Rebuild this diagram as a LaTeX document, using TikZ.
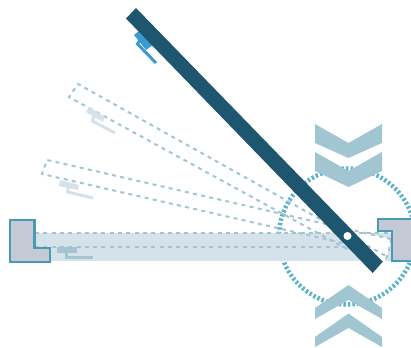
\documentclass[tikz,border=0pt]{standalone}
\definecolor{doorc}{HTML}{1D566E}
\definecolor{framef}{HTML}{C3CAD6}
\definecolor{framed}{HTML}{4A9AB2}
\definecolor{ghostf}{HTML}{D5E2E9}
\definecolor{dashc}{HTML}{A2C5D2}
\definecolor{circc}{HTML}{5DB3CA}
\definecolor{handc}{HTML}{3A9BD0}
\tikzset{
  ghostline/.style={draw=dashc,line width=2pt,dash pattern=on 4pt off 4.3pt},
  framebox/.style={draw=framed,fill=framef,line width=2.4pt,miter limit=10},
  chevron/.style={fill=dashc,draw=none},
  handleg/.style={draw=ghostf,line width=3pt},
  handlez/.style={draw=dashc,line width=3pt}
}
\begin{document}
\begin{tikzpicture}[x=1pt,y=-1pt]
\useasboundingbox (0,0) rectangle (411,347);
\clip (0,0) rectangle (411,347);
\draw[circc,line width=4.5pt,dash pattern=on 2.4pt off 2.1pt] (347,236.5) circle (68);
\fill[ghostf] (35,233) rectangle (392,261);
\fill[white] (347,229) -- (391,239) -- (389,250) -- (385,261) -- (360,261) -- cycle;
% ghost doors
\draw[ghostline] (385,255.5) -- (78,84) -- (69,97) -- (347,249);
\draw[ghostline] (391,239) -- (47,160) -- (42,174) -- (347,244);
\draw[ghostline] (35,233) -- (392,233);
\draw[ghostline] (35,247) -- (350,247);
\draw[ghostline] (391,239) .. controls (390.5,246) and (388.5,253) .. (385,261);
% ghost handles
\fill[ghostf] (89,107) -- (105,117) -- (103,122) -- (86,112) -- cycle;
\draw[handleg] (94,115) -- (92.5,121) -- (115,133);
\fill[ghostf] (60,180) -- (79,185) -- (78,190) -- (59,186) -- cycle;
\draw[handleg] (68.5,186) -- (67.5,192) -- (93,198);
\fill[dashc] (57,247) rectangle (77,253);
\draw[handlez] (66.5,252) -- (66.5,257.5) -- (93,257.5);
% frames
\draw[framebox] (10,220) -- (34.5,220) -- (34.5,248) -- (50,248) -- (50,262) -- (10,262) -- cycle;
\draw[framebox] (420,219) -- (378,219) -- (378,231) -- (392,231) -- (392,261) -- (420,261);
% chevrons
\fill[chevron] (315,124) -- (348.5,143) -- (382,124) -- (382,143) -- (348.5,158) -- (315,143) -- cycle;
\fill[chevron] (315,152) -- (348.5,171) -- (382,152) -- (382,171) -- (348.5,187) -- (315,171) -- cycle;
\fill[chevron] (348.5,285) -- (382,308) -- (382,319) -- (348.5,300) -- (315,319) -- (315,308) -- cycle;
\fill[chevron] (348.5,313.5) -- (382,337) -- (382,347) -- (348.5,328) -- (315,347) -- (315,337) -- cycle;
% handle
\fill[handc] (134,35) -- (139,31) -- (153,45) -- (146,50) -- cycle;
\draw[handc,line width=3pt] (140,40) -- (137.5,44) -- (156,63);
% door
\fill[doorc] (136,8) -- (382.7,261.7) -- (372.7,273) -- (126,18.5) -- cycle;
\fill[white] (347.5,236) circle (4);
\end{tikzpicture}
\end{document}
